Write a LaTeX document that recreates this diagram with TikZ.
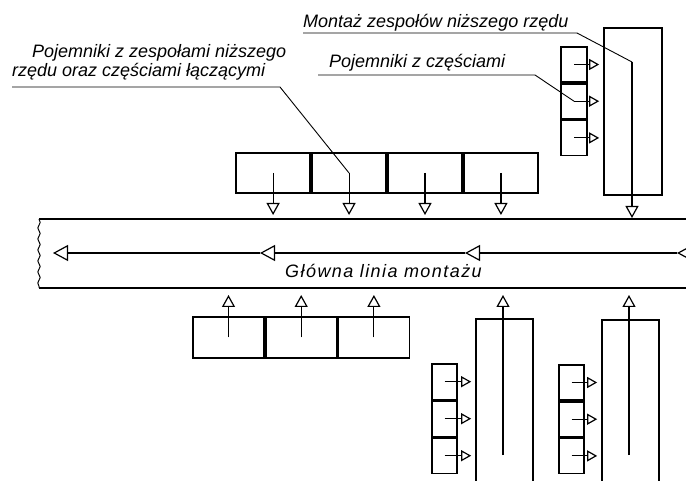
\documentclass[tikz,border=0pt]{standalone}
\usepackage{fontspec}
\setmainfont{Liberation Sans}
\usetikzlibrary{arrows.meta,positioning,decorations.pathmorphing}

\begin{document}
\begin{tikzpicture}[
    x=1pt, y=-1pt,
    pojemnik/.style={rectangle, draw, line width=1.7pt, inner sep=0pt},
    opis/.style={font=\fontsize{18}{20}\selectfont\itshape, inner sep=0pt, anchor=base west},
    pas/.style={line width=1.7pt},
    doplyw/.style={line width=1.1pt, -{Triangle[open, length=12pt, width=13pt, line width=1.2pt]}},
    boczna/.style={line width=1.1pt, shorten >=4pt, -{Triangle[open, length=10pt, width=11pt, line width=1.2pt]}},
    glowna/.style={line width=1.1pt, -{Triangle[open, length=15pt, width=16pt, line width=1.2pt]}},
    odnosnik/.style={line width=0.9pt}
]
    \useasboundingbox (0,0) rectangle (686,481);
    \clip (0,0) rectangle (686,481);

    % Main line band
    \draw[pas] (39,219) -- (700,219);
    \draw[pas] (39,288) -- (700,288);
    \draw[line width=1pt, decorate, decoration={snake, amplitude=1.2pt, segment length=11pt}] (39,219) -- (39,288);
    \coordinate (m0) at (700,253);
    \coordinate (m1) at (677,253);
    \coordinate (m2) at (465,253);
    \coordinate (m3) at (260,253);
    \coordinate (m4) at (53,253);
    \draw[glowna] (m0) -- (m1);
    \draw[glowna] (m1) -- (m2);
    \draw[glowna] (m2) -- (m3);
    \draw[glowna] (m3) -- (m4);
    \node[opis] (glowna) at (285,278) {\addfontfeature{LetterSpace=8}Główna linia montażu};

    % Entry levels on the band
    \coordinate (wejG) at (0,215);
    \coordinate (wejD) at (0,295);

    % Containers above the line
    \node[pojemnik, minimum width=74.25pt, minimum height=40pt] (g1) at (273.1,173) {};
    \node[pojemnik, minimum width=74.25pt, minimum height=40pt, right=0pt of g1] (g2) {};
    \node[pojemnik, minimum width=74.25pt, minimum height=40pt, right=0pt of g2] (g3) {};
    \node[pojemnik, minimum width=74.25pt, minimum height=40pt, right=0pt of g3] (g4) {};
    \draw[doplyw] (g1.center) -- (g1.center |- wejG);
    \draw[doplyw] (g2.center) -- (g2.center |- wejG);
    \draw[doplyw] (g3.center) -- (g3.center |- wejG);
    \draw[doplyw] (g4.center) -- (g4.center |- wejG);

    % Containers below the line
    \node[pojemnik, minimum width=71pt, minimum height=41pt] (d1) at (228.5,337.5) {};
    \node[pojemnik, minimum width=71pt, minimum height=41pt, right=0pt of d1] (d2) {};
    \node[pojemnik, minimum width=71pt, minimum height=41pt, right=0pt of d2] (d3) {};
    \draw[doplyw] (d1.center) -- (d1.center |- wejD);
    \draw[doplyw] (d2.center) -- (d2.center |- wejD);
    \draw[doplyw] (d3.center) -- (d3.center |- wejD);

    % Subassembly top right
    \node[pojemnik, minimum width=58pt, minimum height=167pt] (mt) at (633,111.5) {};
    \coordinate (mtS) at (632,62);
    \draw[doplyw] (mtS) -- (632,218);
    \node[pojemnik, minimum width=26pt, minimum height=35pt] (s1) at (574,64.5) {};
    \node[pojemnik, minimum width=26pt, minimum height=35pt, below=0pt of s1] (s2) {};
    \node[pojemnik, minimum width=26pt, minimum height=35pt, below=0pt of s2] (s3) {};
    \draw[boczna] (s1.center) -- (s1.center -| mt.west);
    \draw[boczna] (s2.center) -- (s2.center -| mt.west);
    \draw[boczna] (s3.center) -- (s3.center -| mt.west);

    % Subassembly bottom middle
    \node[pojemnik, minimum width=57pt, minimum height=180pt] (mb1) at (504.5,409) {};
    \coordinate (mb1S) at (503,455);
    \draw[doplyw] (mb1S) -- (mb1S |- wejD);
    \node[pojemnik, minimum width=25pt, minimum height=35.3pt] (p1) at (444.5,381.7) {};
    \node[pojemnik, minimum width=25pt, minimum height=35.3pt, below=0pt of p1] (p2) {};
    \node[pojemnik, minimum width=25pt, minimum height=35.3pt, below=0pt of p2] (p3) {};
    \draw[boczna] (p1.center) -- (p1.center -| mb1.west);
    \draw[boczna] (p2.center) -- (p2.center -| mb1.west);
    \draw[boczna] (p3.center) -- (p3.center -| mb1.west);

    % Subassembly bottom right
    \node[pojemnik, minimum width=57pt, minimum height=180pt] (mb2) at (630.5,410) {};
    \coordinate (mb2S) at (629,455);
    \draw[doplyw] (mb2S) -- (mb2S |- wejD);
    \node[pojemnik, minimum width=25pt, minimum height=35pt] (r1) at (571.5,382.5) {};
    \node[pojemnik, minimum width=25pt, minimum height=35pt, below=0pt of r1] (r2) {};
    \node[pojemnik, minimum width=25pt, minimum height=35pt, below=0pt of r2] (r3) {};
    \draw[boczna] (r1.center) -- (r1.center -| mb2.west);
    \draw[boczna] (r2.center) -- (r2.center -| mb2.west);
    \draw[boczna] (r3.center) -- (r3.center -| mb2.west);

    % Labels with leaders
    \node[opis] (opisA1) at (32,58) {Pojemniki z zespołami niższego};
    \node[opis] (opisA2) at (12,77) {rzędu oraz częściami łączącymi};
    \coordinate (la) at (12,87);
    \coordinate (lb) at (280,87);
    \draw[odnosnik] (la) -- (lb) -- (g2.center);

    \node[opis] (opisB) at (329,68) {Pojemniki z częściami};
    \coordinate (lc) at (318,75);
    \coordinate (ld) at (535,75);
    \draw[odnosnik] (lc) -- (ld) -- (s2.center);

    \node[opis] (opisC) at (303,28) {Montaż zespołów niższego rzędu};
    \coordinate (le) at (303,33);
    \coordinate (lf) at (577,33);
    \draw[odnosnik] (le) -- (lf) -- (mtS);
\end{tikzpicture}
\end{document}
